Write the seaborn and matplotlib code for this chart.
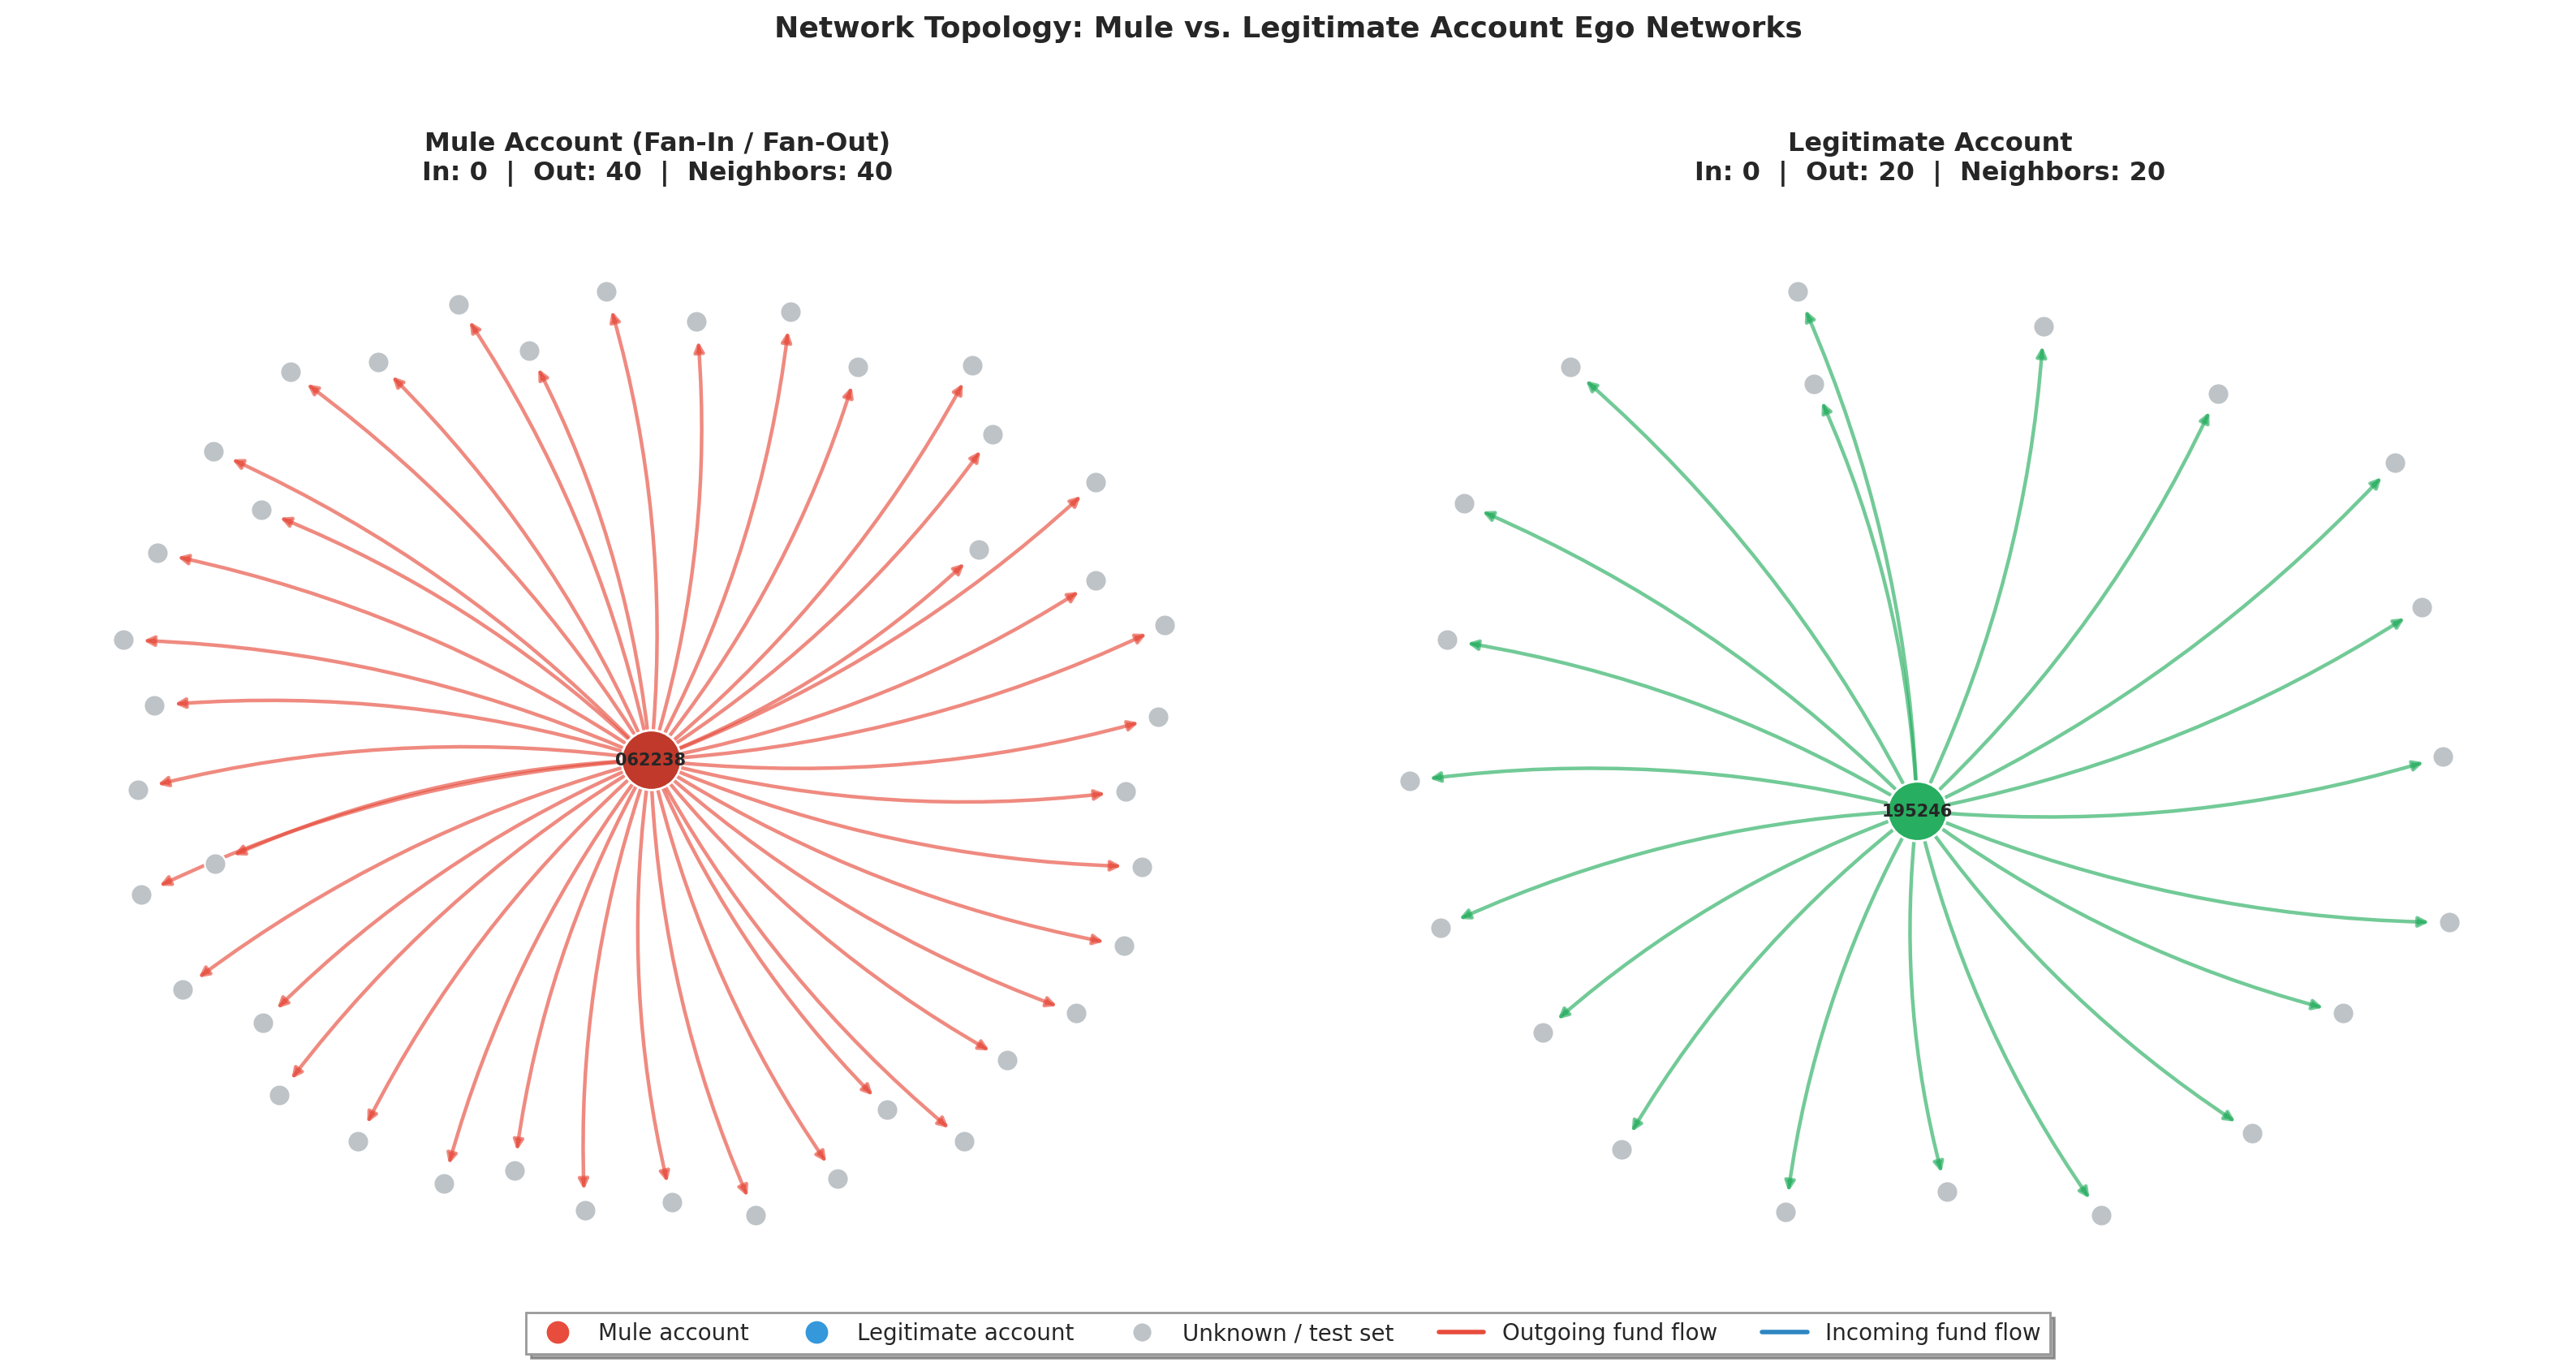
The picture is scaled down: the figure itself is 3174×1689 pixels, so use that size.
import matplotlib
matplotlib.use("Agg")
import matplotlib.pyplot as plt
import seaborn as sns
import pandas as pd
from matplotlib.lines import Line2D

sns.set_theme(style="white")
plt.rcParams['font.family'] = ['DejaVu Sans']

mule_id = "062238"
mule_center = (396, 463)
mule_x = [369,424,481,522,592,604,667,596,667,709,705,685,695,684,655,613,587,540,510,460,
          409,356,313,270,218,170,160,111,86,131,84,94,75,96,159,130,177,230,279,322]
mule_y = [178,196,190,224,223,265,294,335,354,381,437,482,528,576,617,646,695,676,718,740,
          732,737,713,721,695,667,623,603,545,526,481,430,390,337,311,275,227,221,186,214]

legit_id = "195246"
legit_center = (1167, 494)
legit_x = [1094,1244,1350,1458,1474,1487,1491,1426,1371,1279,1185,1087,987,939,877,858,881,891,956,1104]
legit_y = [178,199,240,282,370,461,562,617,690,740,726,738,700,629,565,476,390,307,224,234]

W, H = 1568, 835
fig = plt.figure(figsize=(15.87, 8.45), dpi=200)

def panel(x0, x1, center, xs, ys, ccol, ecol, label, title):
    y0, y1 = 140, 780
    ax = fig.add_axes([x0 / W, 1 - y1 / H, (x1 - x0) / W, (y1 - y0) / H])
    ax.set_xlim(x0, x1)
    ax.set_ylim(y1, y0)
    ax.axis("off")
    for x, y in zip(xs, ys):
        ax.annotate("", xy=(x, y), xytext=center,
                    arrowprops=dict(arrowstyle="-|>", color=ecol, alpha=0.65, lw=1.6,
                                    mutation_scale=9, shrinkA=14, shrinkB=9,
                                    connectionstyle="arc3,rad=0.1"))
    df = pd.DataFrame({"x": xs, "y": ys})
    sns.scatterplot(data=df, x="x", y="y", ax=ax, s=90, color="#bdc3c7", edgecolor="white",
                    linewidth=0.8, zorder=3, legend=False)
    ax.scatter([center[0]], [center[1]], s=700, color=ccol, edgecolor="white", linewidth=1, zorder=4)
    ax.text(center[0], center[1], label, ha="center", va="center", fontsize=7.5,
            fontweight="bold", zorder=5)
    ax.set_xlabel(""); ax.set_ylabel("")
    fig.text((x0 + x1) / 2 / W, 1 - 97 / H, title, ha="center", va="center",
             fontsize=11.5, fontweight="bold")

panel(40, 760, mule_center, mule_x, mule_y, "#c0392b", "#e74c3c", mule_id,
      "Mule Account (Fan-In / Fan-Out)\nIn: 0  |  Out: 40  |  Neighbors: 40")
panel(810, 1540, legit_center, legit_x, legit_y, "#27ae60", "#27ae60", legit_id,
      "Legitimate Account\nIn: 0  |  Out: 20  |  Neighbors: 20")

fig.text(0.5, 1 - 18 / H, "Network Topology: Mule vs. Legitimate Account Ego Networks",
         ha="center", va="center", fontsize=13, fontweight="bold")

handles = [
    Line2D([], [], marker="o", ls="", color="#e74c3c", markersize=9, label="Mule account"),
    Line2D([], [], marker="o", ls="", color="#3498db", markersize=9, label="Legitimate account"),
    Line2D([], [], marker="o", ls="", color="#bdc3c7", markersize=7, label="Unknown / test set"),
    Line2D([], [], color="#e74c3c", lw=2, label="Outgoing fund flow"),
    Line2D([], [], color="#2e86c1", lw=2, label="Incoming fund flow"),
]
fig.legend(handles=handles, loc="center", bbox_to_anchor=(0.5, 1 - 812 / H), ncol=5,
           fontsize=10, frameon=True, shadow=True, fancybox=False, edgecolor="#999999")

fig.savefig("out.png", dpi=200)
